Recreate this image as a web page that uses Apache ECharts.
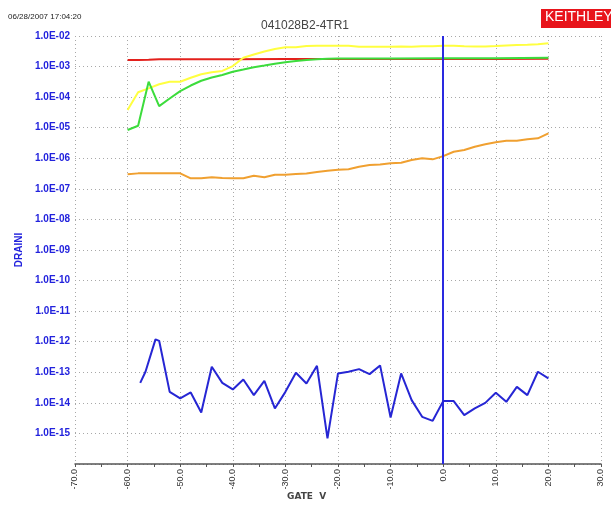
<!DOCTYPE html>
<html>
<head>
<meta charset="utf-8">
<script src="https://cdn.jsdelivr.net/npm/echarts@6/dist/echarts.min.js"></script>
<style>
  html, body { margin: 0; padding: 0; background: #ffffff; }
  #chart { width: 611px; height: 506px; }
</style>
</head>
<body>
<div id="chart"></div>
<script>
// Gate sweep (V) and drain current (A) for each trace
const redV    = [-60, -58, -56, -54, -50, -40, -30, -20, -10, 0, 10, 20];
const redI    = [1.64e-3, 1.64e-3, 1.66e-3, 1.73e-3, 1.74e-3, 1.75e-3, 1.76e-3, 1.76e-3, 1.76e-3, 1.77e-3, 1.78e-3, 1.80e-3];

const yellowV = [-60, -58, -56, -54, -52, -50, -48, -46, -44, -42, -40, -38, -36, -34, -32, -30, -28, -26, -24, -22, -20, -18, -16, -14, -12, -10, -8, -6, -4, -2, 0, 2, 4, 6, 8, 10, 12, 14, 16, 18, 20];
const yellowI = [3.79e-5, 1.44e-4, 1.94e-4, 2.63e-4, 3.2e-4, 3.2e-4, 4.3e-4, 5.58e-4, 6.5e-4, 7.2e-4, 1.04e-3, 1.95e-3, 2.48e-3, 3.1e-3, 3.76e-3, 4.27e-3, 4.27e-3, 4.7e-3, 4.8e-3, 4.8e-3, 4.8e-3, 4.8e-3, 4.47e-3, 4.47e-3, 4.47e-3, 4.47e-3, 4.5e-3, 4.47e-3, 4.6e-3, 4.6e-3, 4.8e-3, 4.8e-3, 4.6e-3, 4.55e-3, 4.55e-3, 4.7e-3, 4.9e-3, 5.07e-3, 5.2e-3, 5.4e-3, 5.77e-3];

const greenV  = [-60, -58, -56, -54, -52, -50, -48, -46, -44, -42, -40, -38, -36, -34, -32, -30, -28, -26, -24, -22, -20, -10, 0, 10, 20];
const greenI  = [8.4e-6, 1.16e-5, 3.2e-4, 5.1e-5, 9.0e-5, 1.58e-4, 2.4e-4, 3.44e-4, 4.4e-4, 5.3e-4, 6.8e-4, 8.0e-4, 9.5e-4, 1.08e-3, 1.24e-3, 1.38e-3, 1.52e-3, 1.64e-3, 1.73e-3, 1.8e-3, 1.84e-3, 1.84e-3, 1.86e-3, 1.88e-3, 1.95e-3];

const orangeV = [-60, -58, -56, -54, -52, -50, -48, -46, -44, -42, -40, -38, -36, -34, -32, -30, -28, -26, -24, -22, -20, -18, -16, -14, -12, -10, -8, -6, -4, -2, 0, 2, 4, 6, 8, 10, 12, 14, 16, 18, 20];
const orangeI = [2.98e-7, 3.21e-7, 3.21e-7, 3.21e-7, 3.21e-7, 3.21e-7, 2.21e-7, 2.21e-7, 2.38e-7, 2.26e-7, 2.21e-7, 2.21e-7, 2.68e-7, 2.38e-7, 2.89e-7, 2.89e-7, 3.05e-7, 3.17e-7, 3.55e-7, 3.91e-7, 4.22e-7, 4.38e-7, 5.28e-7, 6.0e-7, 6.24e-7, 6.83e-7, 7.14e-7, 8.75e-7, 9.95e-7, 9.23e-7, 1.18e-6, 1.64e-6, 1.86e-6, 2.39e-6, 2.86e-6, 3.32e-6, 3.75e-6, 3.75e-6, 4.17e-6, 4.49e-6, 6.55e-6];

const blueV   = [-57.6, -56.6, -54.7, -54.0, -52, -50, -48, -46, -44, -42, -40, -38, -36, -34, -32, -30, -28, -26, -24, -22, -20, -18, -16, -14, -12, -10, -8, -6, -4, -2, 0, 2, 4, 6, 8, 10, 12, 14, 16, 18, 20];
const blueI   = [4.52e-14, 1.04e-13, 1.19e-12, 1.07e-12, 2.29e-14, 1.40e-14, 2.19e-14, 4.86e-15, 1.51e-13, 4.52e-14, 2.75e-14, 5.83e-14, 1.79e-14, 5.26e-14, 6.56e-15, 2.29e-14, 9.6e-14, 4.32e-14, 1.63e-13, 6.85e-16, 9.18e-14, 1.04e-13, 1.27e-13, 8.7e-14, 1.68e-13, 3.33e-15, 9.18e-14, 1.23e-14, 3.49e-15, 2.58e-15, 1.14e-14, 1.14e-14, 3.96e-15, 6.56e-15, 1.0e-14, 2.13e-14, 1.08e-14, 3.34e-14, 1.79e-14, 1.04e-13, 6.3e-14];

// Cursor position on the gate axis
const cursorV = 0;

// Axis ranges
const xMin = -70, xMax = 30, xStep = 10;
const yMin = 1e-16, yMax = 1e-2;

const pair = (xs, ys) => xs.map((x, i) => [x, ys[i]]);

const chart = echarts.init(document.getElementById('chart'), null, { renderer: 'canvas' });

const gridDots = { color: '#a8a8a8', width: 1, type: [1, 3] };
const sans = 'Liberation Sans, Arial, sans-serif';

function trace(name, xs, ys, color, z, extra) {
  return Object.assign({
    name: name,
    type: 'line',
    data: pair(xs, ys),
    showSymbol: false,
    symbol: 'none',
    z: z,
    lineStyle: { color: color, width: 2 },
    itemStyle: { color: color },
    animation: false
  }, extra || {});
}

chart.setOption({
  backgroundColor: '#ffffff',
  animation: false,
  grid: { left: 75, right: 10, top: 36, bottom: 42, containLabel: false },
  title: {
    text: '041028B2-4TR1',
    left: 300, top: 15, textAlign: 'center',
    textStyle: { fontFamily: sans, fontSize: 12, fontWeight: 'normal', color: '#444444' }
  },
  graphic: [
    { type: 'text', left: 8, top: 13,
      style: { text: '06/28/2007 17:04:20', fontFamily: sans, fontSize: 8, fill: '#222222' } },
    { type: 'rect', left: 541, top: 9, shape: { width: 70, height: 19 }, style: { fill: '#e8141b' } },
    { type: 'text', left: 545, top: 10,
      style: { text: 'KEITHLEY', fontFamily: sans, fontSize: 14, fill: '#ffffff' } },
    { type: 'text', left: 287, top: 492,
      style: { text: 'GATE  V', fontFamily: 'DejaVu Sans, sans-serif', fontSize: 9, fontWeight: 'bold', fill: '#444444' } }
  ],
  xAxis: {
    type: 'value',
    min: xMin, max: xMax, interval: xStep,
    axisLine: { show: true, onZero: false, lineStyle: { color: '#555555', width: 1.5 } },
    axisTick: { show: true, length: 3, lineStyle: { color: '#555555' } },
    minorTick: { show: true, splitNumber: 2, length: 3, lineStyle: { color: '#555555' } },
    splitLine: { show: true, lineStyle: gridDots },
    axisLabel: {
      rotate: 90, margin: 5,
      fontFamily: sans, fontSize: 9, color: '#333333',
      formatter: v => v.toFixed(1)
    }
  },
  yAxis: {
    type: 'log', logBase: 10,
    min: yMin, max: yMax, interval: 1,
    name: 'DRAINI', nameLocation: 'middle', nameGap: 47, nameRotate: 90,
    nameTextStyle: { fontFamily: sans, fontSize: 10, fontWeight: 'bold', color: '#2222dd' },
    axisLine: { show: true, lineStyle: gridDots },
    axisTick: { show: false },
    splitLine: { show: true, lineStyle: gridDots },
    axisLabel: {
      margin: 5,
      fontFamily: sans, fontSize: 10, fontWeight: 'bold', color: '#2222dd',
      formatter: v => {
        const e = Math.round(Math.log10(v));
        if (e <= -16) return '';
        const s = String(Math.abs(e)).padStart(2, '0');
        return '1.0E' + (e < 0 ? '-' : '+') + s;
      }
    }
  },
  series: [
    trace('red', redV, redI, '#e3201c', 2),
    trace('yellow', yellowV, yellowI, '#ffff40', 3),
    trace('green', greenV, greenI, '#3cdc3c', 4),
    trace('orange', orangeV, orangeI, '#f0a030', 3),
    trace('blue', blueV, blueI, '#2626d4', 5, {
      markLine: {
        silent: true, symbol: 'none', animation: false,
        label: { show: false },
        lineStyle: { color: '#2a2ae0', width: 2, type: 'solid' },
        data: [{ xAxis: cursorV }]
      }
    })
  ]
});
</script>
</body>
</html>
